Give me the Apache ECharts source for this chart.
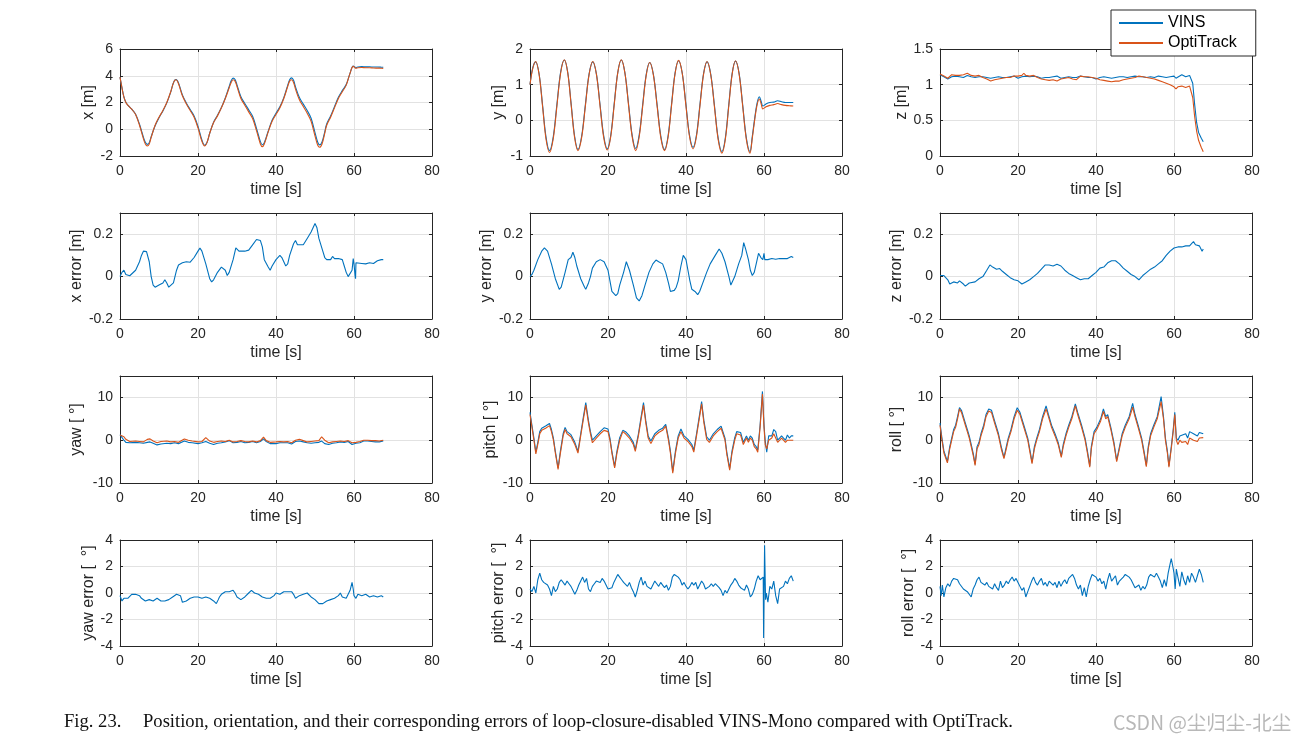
<!DOCTYPE html>
<html>
<head>
<meta charset="utf-8">
<script src="https://cdn.jsdelivr.net/npm/echarts/dist/echarts.min.js"></script>
<style>html,body{margin:0;padding:0;background:#fff}#chart{width:1305px;height:744px}</style>
</head>
<body>
<div id="chart"></div>
<script>
// ---------------- DATA ----------------
const X_T = [0,0.5,1,1.5,2,3,4,5,6,6.5,7,7.5,8,9,10,11,12,13,13.5,14,14.4,15,16,17,18,19,20,21,21.7,22.3,23,24,25,26,27,28,28.5,29,29.5,30,31,32,33,34,35,36,36.5,37,38,39,40,41,42,43,43.5,44,44.5,45,46,47,48,49,50,50.7,51.2,51.8,52.5,53,54,55,56,57,58,59,59.8,60.5,61,62,63,64,65,66,67,67.5];
const X_OPTI = [3.9,3.1,2.4,2.0,1.8,1.5,1.1,0.3,-0.7,-1.1,-1.25,-1.1,-0.6,0.3,0.9,1.4,2.0,2.8,3.3,3.65,3.7,3.4,2.5,1.9,1.4,0.9,0.1,-0.9,-1.25,-1.0,-0.3,0.5,1.0,1.6,2.3,3.1,3.5,3.7,3.6,3.2,2.3,1.8,1.3,0.8,-0.1,-1.1,-1.3,-1.1,-0.2,0.6,1.1,1.6,2.3,3.2,3.6,3.7,3.5,3.0,2.2,1.7,1.2,0.6,-0.5,-1.2,-1.35,-1.1,-0.3,0.3,0.9,1.6,2.3,2.8,3.3,4.2,4.7,4.55,4.6,4.62,4.6,4.6,4.58,4.57,4.56,4.55];
const X_VINS = [3.9,3.12,2.42,2.02,1.81,1.51,1.13,0.37,-0.59,-0.98,-1.13,-1.0,-0.55,0.26,0.86,1.37,1.97,2.77,3.3,3.66,3.72,3.47,2.57,1.97,1.47,0.99,0.22,-0.8,-1.2,-0.99,-0.3,0.53,1.04,1.62,2.34,3.2,3.62,3.82,3.72,3.32,2.43,1.93,1.45,0.97,0.07,-0.93,-1.16,-1.01,-0.15,0.67,1.2,1.68,2.36,3.28,3.7,3.84,3.66,3.17,2.37,1.88,1.4,0.82,-0.25,-0.97,-1.17,-0.95,-0.19,0.39,0.99,1.69,2.39,2.89,3.34,4.2,4.72,4.62,4.66,4.68,4.66,4.67,4.65,4.65,4.64,4.63];

const Y_T = [0,0.7,1.45,2.34,3.23,4.11,5.0,5.95,6.9,7.85,8.8,9.68,10.55,11.43,12.3,13.25,14.2,15.15,16.1,17.03,17.95,18.88,19.8,20.7,21.6,22.5,23.4,24.33,25.25,26.18,27.1,28.0,28.9,29.8,30.7,31.65,32.6,33.55,34.5,35.4,36.3,37.2,38.1,39.03,39.95,40.88,41.8,42.7,43.6,44.5,45.4,46.35,47.3,48.25,49.2,50.08,50.95,51.83,52.7,53.63,54.55,55.48,56.4,57.0,57.6,58.2,58.8,59.3,59.7,60.5,61.5,62.5,63.5,64.5,65.5,66.5,67.5];
const Y_OPTI = [1.0,1.45,1.65,1.28,0.38,-0.53,-0.9,-0.52,0.4,1.32,1.7,1.33,0.43,-0.48,-0.85,-0.48,0.4,1.28,1.65,1.29,0.41,-0.47,-0.83,-0.46,0.44,1.33,1.7,1.33,0.44,-0.45,-0.85,-0.46,0.4,1.26,1.62,1.26,0.39,-0.49,-0.85,-0.48,0.42,1.31,1.68,1.32,0.44,-0.44,-0.8,-0.44,0.43,1.29,1.65,1.27,0.37,-0.54,-0.92,-0.54,0.38,1.29,1.67,1.29,0.38,-0.54,-0.92,-0.5,0.0,0.42,0.6,0.45,0.32,0.38,0.42,0.44,0.47,0.44,0.42,0.41,0.4];
const Y_VINS = [1.0,1.47,1.64,1.3,0.42,-0.47,-0.85,-0.47,0.45,1.35,1.69,1.34,0.46,-0.44,-0.82,-0.44,0.44,1.3,1.64,1.3,0.45,-0.42,-0.8,-0.42,0.48,1.34,1.69,1.34,0.48,-0.41,-0.79,-0.41,0.45,1.29,1.62,1.28,0.43,-0.45,-0.82,-0.44,0.46,1.33,1.67,1.33,0.48,-0.4,-0.76,-0.4,0.47,1.31,1.64,1.29,0.41,-0.5,-0.88,-0.5,0.42,1.31,1.66,1.31,0.42,-0.5,-0.88,-0.45,0.05,0.47,0.66,0.52,0.4,0.46,0.5,0.51,0.55,0.52,0.5,0.5,0.5];

const Z_T = [0,1,2,3,4,5,6,7,8,9,10,11,12,13,14,15,16,17,18,19,20,21,21.5,22,23,24,25,26,27,28,29,30,31,32,33,34,35,36,37,38,39,40,41,42,43,44,45,46,47,48,49,50,51,51.5,52,53,54,55,56,57,58,59,60,60.5,61,62,63,64,64.4,64.8,65.3,65.8,66.3,67,67.5];
const Z_OPTI = [1.15,1.12,1.09,1.14,1.13,1.13,1.14,1.16,1.13,1.12,1.13,1.1,1.08,1.05,1.07,1.08,1.09,1.1,1.1,1.12,1.12,1.13,1.16,1.13,1.12,1.13,1.1,1.08,1.07,1.06,1.07,1.05,1.08,1.09,1.1,1.08,1.07,1.12,1.11,1.11,1.1,1.09,1.07,1.06,1.05,1.04,1.05,1.05,1.07,1.08,1.09,1.1,1.12,1.13,1.11,1.1,1.09,1.08,1.06,1.04,1.02,1.0,0.97,0.94,0.97,0.98,0.96,0.98,0.97,0.82,0.55,0.35,0.22,0.12,0.06];
const Z_VINS = [1.14,1.11,1.08,1.11,1.12,1.11,1.1,1.13,1.11,1.1,1.11,1.11,1.1,1.09,1.1,1.11,1.1,1.1,1.11,1.12,1.09,1.11,1.12,1.12,1.11,1.12,1.11,1.09,1.1,1.1,1.11,1.12,1.09,1.1,1.11,1.1,1.1,1.12,1.11,1.1,1.1,1.08,1.1,1.11,1.1,1.09,1.1,1.11,1.11,1.1,1.11,1.12,1.11,1.12,1.11,1.1,1.11,1.1,1.12,1.11,1.1,1.11,1.12,1.09,1.08,1.14,1.11,1.13,1.13,1.02,0.72,0.47,0.33,0.25,0.2];

const XERR = [[0,0],[0.5,0.02],[1,0.03],[1.5,0.01],[2,0.008],[2.5,0.004],[3,0.006],[4,0.03],[5,0.07],[5.5,0.1],[6,0.12],[6.8,0.118],[7.5,0.07],[8,0.0],[8.5,-0.04],[9,-0.05],[10,-0.04],[11,-0.03],[11.5,-0.015],[12,-0.03],[12.5,-0.05],[13,-0.055],[13.7,-0.03],[14.5,0.03],[15,0.055],[16,0.065],[17,0.07],[18,0.068],[19,0.09],[20,0.12],[20.5,0.135],[21,0.12],[22,0.06],[23,-0.01],[23.5,-0.025],[24,-0.015],[25,0.02],[26,0.045],[27,0.03],[27.5,0.005],[28,0.02],[29,0.08],[29.7,0.135],[30.5,0.12],[31,0.115],[32,0.12],[33,0.125],[34,0.15],[35,0.175],[36,0.17],[36.5,0.14],[37,0.08],[38,0.045],[38.5,0.03],[39,0.05],[40,0.08],[41,0.1],[41.5,0.09],[42,0.07],[42.5,0.05],[43,0.06],[43.5,0.1],[44.5,0.155],[45,0.17],[45.5,0.15],[46,0.145],[47,0.15],[48,0.18],[49,0.21],[50,0.25],[50.5,0.23],[51,0.18],[52,0.12],[52.5,0.09],[53,0.08],[54,0.08],[54.5,0.095],[55,0.085],[56,0.085],[57,0.08],[57.5,0.05],[58,0.02],[58.5,0.0],[59,-0.005],[59.5,0.03],[59.8,0.085],[60,0.06],[60.3,0.0],[60.4,-0.01],[60.5,0.065],[61,0.06],[62,0.062],[63,0.06],[64,0.065],[65,0.062],[66,0.075],[67,0.08],[67.5,0.08]];
const YERR = [[0,0.0],[0.5,0.01],[1,0.03],[2,0.08],[3,0.12],[3.7,0.135],[4.5,0.12],[5.5,0.06],[6.5,-0.01],[7.5,-0.06],[8,-0.05],[9,0.02],[9.8,0.08],[10.5,0.09],[11,0.115],[11.5,0.09],[12,0.05],[13,-0.01],[14,-0.05],[14.3,-0.06],[15,-0.03],[15.5,0.0],[16,0.04],[17,0.07],[18,0.08],[19,0.07],[20,0.03],[20.5,-0.02],[21,-0.07],[22,-0.09],[22.5,-0.08],[23,-0.04],[24,0.02],[24.7,0.07],[25.5,0.03],[26.5,-0.04],[27.3,-0.1],[28,-0.115],[28.7,-0.09],[29.5,-0.04],[30.5,0.02],[31.5,0.06],[32.3,0.078],[33,0.07],[34,0.06],[34.8,0.02],[35.5,-0.03],[36,-0.07],[37,-0.065],[37.5,-0.05],[38,-0.02],[38.7,0.05],[39.3,0.1],[40,0.08],[40.5,0.03],[41,-0.02],[41.5,-0.06],[42.3,-0.07],[43,-0.085],[43.5,-0.07],[44.5,-0.02],[45.3,0.02],[46.2,0.06],[47.5,0.1],[48.5,0.13],[49.2,0.11],[50,0.07],[51,0.0],[51.5,-0.04],[51.8,-0.045],[52.5,0.0],[53.5,0.06],[54.3,0.1],[54.8,0.16],[55.3,0.13],[56,0.08],[56.5,0.03],[57,0.005],[57.5,0.02],[58,0.06],[58.6,0.11],[59.2,0.09],[59.7,0.08],[60,0.11],[60.2,0.08],[61,0.08],[62,0.085],[63,0.082],[64,0.085],[65,0.085],[66,0.085],[66.5,0.09],[67,0.095],[67.5,0.09]];
const ZERR = [[0,0.005],[1,0.005],[2,-0.015],[2.5,-0.035],[3.5,-0.025],[4.5,-0.03],[5,-0.02],[6,-0.035],[6.5,-0.045],[7.5,-0.03],[9,-0.025],[10,-0.01],[11,0.0],[12,0.03],[12.8,0.055],[13.5,0.045],[14.5,0.035],[15.3,0.038],[16,0.025],[17,0.01],[18,-0.005],[19,-0.015],[20,-0.02],[21,-0.035],[22,-0.025],[23,-0.015],[24,0.0],[25,0.015],[26,0.035],[27,0.055],[28,0.055],[29,0.05],[30,0.058],[31,0.05],[32,0.03],[33,0.015],[34,0.005],[35,-0.005],[36,-0.015],[37,-0.01],[38,-0.01],[39,0.005],[40,0.02],[41,0.04],[42,0.045],[43,0.065],[44,0.075],[45,0.075],[46,0.06],[47,0.04],[48,0.025],[49,0.01],[50,0.0],[51,-0.015],[52,0.005],[53,0.02],[54,0.035],[55,0.045],[56,0.06],[57,0.075],[58,0.1],[59,0.12],[60,0.135],[61,0.14],[62,0.14],[63,0.145],[64,0.145],[64.5,0.155],[65,0.165],[65.5,0.15],[66,0.155],[66.5,0.145],[67,0.14],[67.2,0.12],[67.5,0.13]];

const YAW_T = [0,0.5,1,1.5,2.5,4,5,6,7,7.7,8.5,9.5,10.5,12,13,14,15,16.5,17.5,18.5,20,21,22,23,24,25,26,27,28,29,30,31,32,33,34,35,36,36.8,37.5,38.5,40,41,42,43,44,45,46,47,48,49,50,51,51.7,52.5,53.5,54.5,55.5,56.5,57.5,58.5,59.5,60.5,61.5,62.5,63.5,64.5,65.5,66.5,67.5];
const YAW_OPTI = [1.2,1.4,0.8,0.2,-0.3,-0.2,-0.3,-0.4,0.2,0.3,-0.2,-0.6,-0.3,-0.2,-0.4,-0.3,-0.5,0.3,0.0,-0.2,-0.4,-0.3,0.6,-0.2,-0.5,-0.3,-0.2,-0.3,0.0,-0.4,-0.3,-0.1,-0.3,-0.4,-0.2,-0.4,-0.1,0.7,-0.1,-0.5,-0.4,-0.3,-0.4,-0.3,-0.6,0.0,0.2,-0.1,-0.4,-0.3,-0.2,-0.1,0.8,0.0,-0.6,-0.4,-0.3,-0.2,-0.3,-0.1,-0.6,-0.5,-0.3,0.0,0.0,-0.1,-0.1,-0.2,0.0];
const YAW_VINS = [1.3,0.9,0.0,-0.5,-0.6,-0.5,-0.6,-0.7,-0.5,-0.4,-0.7,-1.1,-0.9,-0.7,-0.8,-0.6,-0.8,-0.2,-0.5,-0.6,-0.8,-0.6,-0.3,-0.7,-1.0,-0.7,-0.6,-0.4,-0.1,-0.6,-0.5,-0.3,-0.6,-0.5,-0.3,-0.6,-0.3,0.3,-0.3,-0.8,-0.8,-0.6,-0.6,-0.6,-0.9,-0.3,-0.2,-0.4,-0.6,-0.7,-0.6,-0.5,-0.2,-0.8,-1.0,-0.7,-0.6,-0.4,-0.5,-0.3,-1.0,-0.7,-0.6,-0.2,-0.2,-0.3,-0.4,-0.4,-0.2];

const PITCH_T = [0,0.5,1,1.5,2,2.5,3,4,5,5.5,6,6.5,7.2,7.8,8.5,9,9.5,10.5,11.5,12.3,13,13.7,14.3,15,15.5,16,17,18,19,20,20.5,21,21.7,22.3,23,23.8,24.5,25.5,26.5,27,27.8,28.5,29.1,29.7,30.3,31,32,33,34,34.8,35.5,36,36.6,37.3,38,38.7,39.5,40.5,41.5,42,42.7,43.4,44,44.6,45.3,46,47,48,49,49.5,50,50.5,51.2,51.8,52.5,53,54,54.7,55.5,56,56.5,57,57.5,58,58.4,59,59.6,60,60.3,60.7,61.2,62,62.5,63,63.5,64,64.5,65,65.5,66,66.5,67,67.5];
const PITCH_OPTI = [6,3,0,-3.2,-1,1.5,2.3,2.8,3.4,2,0,-3,-6.8,-3,1,2.5,1.5,0.8,-1,-3,1,5,8.2,4,1.5,-0.6,0.5,1.5,2.3,2,0,-3,-6.5,-3,0,2,1.5,0.5,-1,-2.6,1,5,8.2,4,0.5,-0.8,1,1.8,2.3,3.3,0,-3,-7.7,-3,0.5,2,0.5,-0.3,-1.5,-2.8,1,5,8.5,4,0.2,-0.5,1,2,2.8,3.2,0,-3.5,-7,-3,0,1.5,1.2,-1,0.5,-0.5,0.5,0,-1.5,-2,-2.8,3,10.8,3,-1,-2,0,0.5,1.5,1.5,-0.5,-0.5,0.5,0,-0.5,0,-0.3,0,0];
const PITCH_VINS = [6.5,3.5,0.5,-2.8,-0.5,2,2.8,3.3,3.9,2.5,0.5,-2.6,-6.5,-2.5,1.5,3,2,1.3,-0.5,-2.6,1.5,5.5,8.8,4.5,2,0,1,2,2.9,2.6,0.5,-2.6,-6.1,-2.5,0.6,2.3,2,1,-0.5,-2.2,1.5,5.5,8.8,4.5,1,-0.2,1.5,2.3,2.8,3.7,0.5,-2.5,-7.3,-2.5,1,2.6,1,0.2,-1,-2.3,1.5,5.5,9,4.5,0.8,0,1.5,2.5,3.3,3.7,0.5,-3,-6.6,-2.5,0.6,2,1.8,-0.5,1,0,1,0.5,-1,-1.5,-2.3,3.5,11.4,3.5,0,-2.8,1,1,2.5,2,0,0.5,1,0.5,0,1.2,0.5,1,1];

const ROLL_T = [0,0.5,1,1.9,2.5,3,3.5,4,4.5,5,5.5,6,6.5,7,7.5,8,8.5,9,9.5,10,10.5,11.2,11.8,12.5,13.2,14,15,15.7,16.4,17,17.5,18.2,19,19.8,20.5,21.5,22.5,23.1,23.6,24.2,24.8,25.5,26.3,27.2,27.8,28.6,29.5,30.3,31.1,31.6,32.3,33,33.8,34.7,35.3,36.3,37.2,37.8,38.4,38.8,39.5,40.2,41.2,41.9,42.5,43,43.8,44.6,45.3,45.9,46.7,47.5,48.5,49.4,50,50.8,51.7,52.3,52.9,53.4,54,54.8,55.7,56.7,57.3,57.8,58.3,58.7,59.3,59.8,60.2,60.6,61,61.5,62,63,63.5,64,65,66,66.5,67,67.5];
const ROLL_OPTI = [3.5,0,-3,-5.3,-2,0,2,3,5,7.3,6.5,5,3.5,2,0.5,-1.5,-3.5,-5.9,-2,-1,1,3,5.5,6.8,6.5,4,1,-2,-4.3,-2,0,2,5,7,6,3,0,-3,-5.5,-2,0,2,5,7.3,5.5,3,1,-1,-4,-1.5,1,3,5,8,6,3,0,-3,-6.3,-2,1.5,2.5,4.5,6.7,5,5.5,2.5,-1,-5,-2.5,1,3,5,7.7,5.5,3,0,-3,-6.2,-2,1,3,5,9,5,0,-3,-6.3,-2,2,6,0,-1,0,-0.5,-0.3,-1,0.5,0,-0.3,0.5,0.3,0.6];
const ROLL_VINS = [4,0.5,-2.5,-5,-1.5,0.5,2.5,3.5,5.5,7.6,7,5.5,4,2.5,1,-1,-3,-5.6,-1.5,-0.5,1.5,3.5,6,7.3,7,4.5,1.5,-1.5,-4,-1.5,0.5,2.5,5.5,7.6,6.5,3.5,0.5,-2.5,-5.2,-1.5,0.5,2.5,5.5,8,6,3.5,1.5,-0.5,-3.7,-1,1.5,3.5,5.5,8.5,6.5,3.5,0.5,-2.5,-6,-1.5,2,3,5,7.3,5.5,6,3,-0.5,-4.7,-2,1.5,3.5,5.5,8.6,6,3.5,0.5,-2.5,-5.9,-1.5,1.5,3.5,5.5,10.2,5.5,0.5,-2.5,-6,-1.5,2.5,6.5,0.5,0,1,1,1.5,0.5,2,1.5,1,1.8,1.5,1.5];

const YAWERR = [[0,-0.2],[0.5,-0.6],[1,-0.4],[1.5,-0.5],[2,-0.4],[2.5,-0.3],[3,-0.1],[3.5,0.0],[4,-0.1],[4.5,-0.1],[5,-0.2],[5.5,-0.4],[6,-0.5],[6.5,-0.6],[7,-0.6],[7.5,-0.5],[8,-0.5],[8.5,-0.6],[9,-0.6],[9.5,-0.4],[10,-0.5],[10.5,-0.6],[11,-0.7],[11.5,-0.6],[12,-0.5],[12.5,-0.5],[13,-0.4],[13.5,-0.3],[14,-0.2],[14.5,-0.1],[15,0.0],[15.5,-0.2],[16,-0.7],[16.5,-0.6],[17,-0.6],[17.5,-0.5],[18,-0.4],[18.5,-0.4],[19,-0.3],[19.5,-0.2],[20,-0.3],[20.5,-0.4],[21,-0.4],[21.5,-0.4],[22,-0.3],[22.5,-0.3],[23,-0.4],[23.5,-0.5],[24,-0.6],[24.7,-0.8],[25.2,-0.5],[25.5,-0.3],[26,-0.1],[26.5,0.0],[27,0.1],[27.5,0.0],[28,0.1],[28.5,0.2],[29,0.2],[29.5,0.0],[30,-0.3],[30.5,-0.4],[31,-0.5],[31.5,-0.4],[32,-0.3],[32.5,-0.2],[33,0.0],[33.7,0.2],[34.2,0.1],[34.5,0.0],[35,-0.1],[35.5,-0.1],[36,-0.2],[36.5,-0.3],[37,-0.4],[37.5,-0.4],[38,-0.5],[38.5,-0.4],[39,-0.3],[39.5,-0.2],[40,0.0],[40.5,-0.1],[41,-0.1],[41.5,0.0],[42,0.1],[42.5,0.1],[43,0.1],[43.5,0.2],[44,0.1],[44.5,-0.1],[45,-0.4],[45.5,-0.3],[46,-0.2],[46.5,-0.1],[47,-0.1],[47.5,0.0],[48,0.0],[48.5,-0.1],[49,-0.3],[49.5,-0.4],[50,-0.5],[50.5,-0.6],[51,-0.8],[51.5,-0.9],[52,-0.8],[52.5,-0.7],[53,-0.6],[53.5,-0.6],[54,-0.5],[54.5,-0.5],[55,-0.4],[55.5,-0.3],[56,-0.2],[56.5,0.0],[57,-0.3],[57.5,-0.4],[58,-0.4],[58.5,-0.1],[59,0.2],[59.5,0.8],[59.8,0.3],[60,-0.2],[60.5,-0.4],[61,-0.1],[61.5,-0.2],[62,-0.2],[62.5,-0.1],[63,-0.1],[63.5,-0.2],[64,-0.3],[64.5,-0.2],[65,-0.2],[65.5,-0.3],[66,-0.3],[66.5,-0.2],[67,-0.2],[67.5,-0.3]];
const PITCHERR = [[0,0.3],[0.5,0.1],[1,0.5],[1.5,0.0],[2,1.0],[2.5,1.5],[3,1.0],[3.5,0.8],[4,0.9],[4.5,0.6],[5,0.3],[5.5,-0.2],[6,0.5],[6.5,0.1],[7,0.3],[7.5,0.8],[8,1.0],[8.5,0.9],[9,0.6],[9.5,0.9],[10,0.7],[10.5,0.5],[11,0.2],[11.5,-0.1],[12,0.2],[12.5,0.6],[13,0.9],[13.5,1.2],[14,0.8],[14.5,1.1],[15,0.3],[15.5,0.1],[16,0.5],[16.5,0.7],[17,0.9],[17.5,1.0],[18,0.8],[18.5,1.1],[19,0.9],[19.5,0.6],[20,0.3],[20.5,0.2],[21,0.4],[21.5,0.8],[22,1.1],[22.5,1.4],[23,1.2],[23.5,1.0],[24,0.8],[24.5,0.7],[25,0.5],[25.5,0.8],[26,0.4],[26.5,0.1],[27,-0.3],[27.5,0.2],[28,0.8],[28.5,1.2],[29,0.6],[29.5,0.9],[30,0.5],[30.5,0.6],[31,0.3],[31.5,0.6],[32,0.9],[32.5,0.7],[33,0.5],[33.5,0.8],[34,0.6],[34.5,0.4],[35,0.6],[35.5,0.2],[36,0.5],[36.5,1.2],[37,1.4],[37.5,1.5],[38,1.2],[38.5,1.0],[39,0.6],[39.5,0.8],[40,0.5],[40.5,0.3],[41,0.5],[41.5,0.8],[42,0.6],[42.5,0.8],[43,0.3],[43.5,0.4],[44,0.9],[44.5,0.7],[45,0.3],[45.5,0.2],[46,0.5],[46.5,0.7],[47,0.5],[47.5,0.7],[48,0.6],[48.5,0.4],[49,0.2],[49.5,-0.2],[50,0.2],[50.5,0.0],[51,0.3],[51.5,0.6],[52,0.8],[52.5,1.1],[53,0.9],[53.5,0.6],[54,0.4],[54.5,0.5],[55,0.2],[55.5,0.6],[56,0.3],[56.5,-0.3],[57,-0.1],[57.5,0.3],[58,0.9],[58.5,1.3],[59,1.0],[59.5,0.9],[59.8,1.2],[59.9,-3.4],[60.15,3.6],[60.4,-0.5],[60.6,0.0],[61,-0.7],[61.5,0.5],[62,0.3],[62.5,0.9],[63,-0.2],[63.5,-0.8],[64,0.3],[64.5,0.2],[65,0.5],[65.5,0.9],[66,0.7],[66.5,1.1],[67,1.3],[67.5,0.9]];
const ROLLERR = [[0,0.5],[0.3,-0.2],[0.6,0.6],[1,-0.3],[1.5,0.4],[2,0.7],[2.5,0.5],[3,0.9],[3.5,1.1],[4,1.2],[4.5,1.0],[5,0.7],[5.5,0.8],[6,0.3],[6.5,0.4],[7,0.1],[7.5,0.2],[8,-0.3],[8.5,0.3],[9,0.6],[9.5,1.0],[10,1.2],[10.5,0.8],[11,0.9],[11.5,0.6],[12,0.8],[12.5,0.5],[13,0.6],[13.5,0.3],[14,0.7],[14.5,0.4],[15,0.2],[15.5,0.9],[16,0.4],[16.5,0.6],[17,0.9],[17.5,0.7],[18,1.0],[18.5,1.2],[19,0.9],[19.5,1.1],[20,0.8],[20.5,0.5],[21,0.2],[21.5,0.4],[22,-0.3],[22.5,0.1],[23,0.5],[23.5,0.9],[24,1.2],[24.5,0.8],[25,0.6],[25.5,0.9],[26,1.1],[26.5,0.6],[27,0.8],[27.5,0.5],[28,0.9],[28.5,1.0],[29,0.6],[29.5,0.8],[30,0.4],[30.5,0.9],[31,0.5],[31.5,0.8],[32,1.0],[32.5,0.7],[33,1.1],[33.5,1.2],[34,1.4],[34.5,1.1],[35,0.6],[35.5,0.3],[36,0.6],[36.5,-0.2],[37,0.4],[37.5,-0.3],[38,0.5],[38.5,1.0],[39,1.4],[39.5,1.5],[40,1.2],[40.5,0.9],[41,1.1],[41.5,0.7],[42,0.9],[42.5,0.3],[43,1.0],[43.5,1.5],[44,0.9],[44.5,0.8],[45,1.3],[45.5,0.6],[46,0.9],[46.5,1.0],[47,1.2],[47.5,1.4],[48,1.5],[48.5,1.2],[49,1.0],[49.5,1.1],[50,0.4],[50.5,0.3],[51,0.6],[51.5,0.2],[52,0.5],[52.5,0.3],[53,0.6],[53.5,1.2],[54,1.4],[54.5,1.5],[55,1.2],[55.5,1.5],[56,1.2],[56.5,0.9],[57,0.4],[57.5,1.0],[58,0.5],[58.5,1.5],[59,2.2],[59.3,2.6],[59.7,2.0],[60,1.5],[60.3,0.3],[60.6,1.8],[61,1.2],[61.5,0.5],[62,1.6],[62.5,1.0],[63,0.6],[63.5,1.3],[64,0.8],[64.5,1.5],[65,1.2],[65.5,0.8],[66,1.3],[66.5,1.8],[67,1.4],[67.5,0.8]];

const X_TICKS = {min: 0, max: 80, interval: 20};
const SERIES_NAMES = ['VINS', 'OptiTrack'];
const CAPTION_LABEL = 'Fig. 23.';
const CAPTION_TEXT = 'Position, orientation, and their corresponding errors of loop-closure-disabled VINS-Mono compared with OptiTrack.';
const WATERMARK = 'CSDN @尘归尘-北尘';

// ---------------- LAYOUT / STYLE ----------------
const AX = '#262626', GRIDC = '#e2e2e2';
const C_VINS = '#0072BD', C_OPTI = '#D95319';
const FONT = 'Liberation Sans, Arial, Helvetica, sans-serif';
const COL_LEFT = [120, 530, 940], COL_W = 312;
const ROW_TOP = [49, 213, 376, 540], ROW_H = [107, 106, 107, 106];

const pair = (t, v) => t.map((tt, k) => [tt, v[k]]);

const plots = [
  {r:0,c:0,name:'x [m]',min:-2,max:6,int:2,gap:22,smooth:true,s:[['VINS',pair(X_T,X_VINS)],['OptiTrack',pair(X_T,X_OPTI)]]},
  {r:0,c:1,name:'y [m]',min:-1,max:2,int:1,gap:22,smooth:true,s:[['VINS',pair(Y_T,Y_VINS)],['OptiTrack',pair(Y_T,Y_OPTI)]]},
  {r:0,c:2,name:'z [m]',min:0,max:1.5,int:0.5,gap:30,s:[['VINS',pair(Z_T,Z_VINS)],['OptiTrack',pair(Z_T,Z_OPTI)]]},
  {r:1,c:0,name:'x error [m]',min:-0.2,max:0.3,int:0.2,gap:35,hideMax:true,s:[['VINS',XERR]]},
  {r:1,c:1,name:'y error [m]',min:-0.2,max:0.3,int:0.2,gap:35,hideMax:true,s:[['VINS',YERR]]},
  {r:1,c:2,name:'z error [m]',min:-0.2,max:0.3,int:0.2,gap:35,hideMax:true,s:[['VINS',ZERR]]},
  {r:2,c:0,name:'yaw [ °]',min:-10,max:15,int:10,gap:35,hideMax:true,s:[['VINS',pair(YAW_T,YAW_VINS)],['OptiTrack',pair(YAW_T,YAW_OPTI)]]},
  {r:2,c:1,name:'pitch [ °]',min:-10,max:15,int:10,gap:31,hideMax:true,s:[['VINS',pair(PITCH_T,PITCH_VINS)],['OptiTrack',pair(PITCH_T,PITCH_OPTI)]]},
  {r:2,c:2,name:'roll [ °]',min:-10,max:15,int:10,gap:35,hideMax:true,s:[['VINS',pair(ROLL_T,ROLL_VINS)],['OptiTrack',pair(ROLL_T,ROLL_OPTI)]]},
  {r:3,c:0,name:'yaw error [  °]',min:-4,max:4,int:2,gap:23,s:[['VINS',YAWERR]]},
  {r:3,c:1,name:'pitch error [  °]',min:-4,max:4,int:2,gap:23,s:[['VINS',PITCHERR]]},
  {r:3,c:2,name:'roll error [  °]',min:-4,max:4,int:2,gap:23,s:[['VINS',ROLLERR]]}
];

const grid = [], xAxis = [], yAxis = [], series = [];
const lineAx = {show:true, onZero:false, lineStyle:{color:AX, width:1}};
const tick = {show:true, inside:true, length:3, lineStyle:{color:AX, width:1}};
plots.forEach((p, i) => {
  grid.push({left:COL_LEFT[p.c], top:ROW_TOP[p.r], width:COL_W, height:ROW_H[p.r], containLabel:false});
  xAxis.push({type:'value', gridIndex:i, position:'bottom', ...X_TICKS,
    name:'time [s]', nameLocation:'middle', nameGap:26,
    nameTextStyle:{fontSize:16, color:AX, fontFamily:FONT},
    axisLine:lineAx, axisTick:tick,
    axisLabel:{fontSize:14, color:AX, margin:8, fontFamily:FONT},
    splitLine:{show:true, lineStyle:{color:GRIDC, width:1}}});
  yAxis.push({type:'value', gridIndex:i, position:'left', min:p.min, max:p.max, interval:p.int,
    name:p.name, nameLocation:'middle', nameGap:p.gap, nameRotate:90,
    nameTextStyle:{fontSize:16, color:AX, fontFamily:FONT},
    axisLine:lineAx, axisTick:tick,
    axisLabel:{fontSize:14, color:AX, margin:7, fontFamily:FONT, showMaxLabel: p.hideMax ? false : true},
    splitLine:{show:true, lineStyle:{color:GRIDC, width:1}}});
  p.s.forEach(([nm, data]) => {
    series.push({type:'line', name:nm, xAxisIndex:i, yAxisIndex:i, data:data,
      showSymbol:false, symbol:'none', smooth: p.smooth ? 0.35 : false,
      lineStyle:{width:1.1, color: nm === 'VINS' ? C_VINS : C_OPTI},
      itemStyle:{color: nm === 'VINS' ? C_VINS : C_OPTI},
      z: nm === 'VINS' ? 2 : 3, animation:false});
  });
});
// mirrored box axes (top / right), MATLAB style
plots.forEach((p, i) => {
  xAxis.push({type:'value', gridIndex:i, position:'top', ...X_TICKS, axisLine:lineAx, axisTick:tick, axisLabel:{show:false}, splitLine:{show:false}});
  yAxis.push({type:'value', gridIndex:i, position:'right', min:p.min, max:p.max, interval:p.int, axisLine:lineAx, axisTick:tick, axisLabel:{show:false}, splitLine:{show:false}});
});

const option = {
  animation:false,
  backgroundColor:'#fff',
  grid, xAxis, yAxis, series,
  legend:{data:SERIES_NAMES, orient:'vertical', left:1111, top:10, padding:[5,19,5,8], itemGap:4,
    itemWidth:44, itemHeight:2, icon:'rect', borderColor:AX, borderWidth:1, backgroundColor:'#fff',
    selectedMode:false, textStyle:{fontSize:16, color:'#000', fontFamily:FONT}},
  graphic:[
    {type:'text', left:64, top:713, style:{text:CAPTION_LABEL, font:'18.6px "Liberation Serif", "Times New Roman", serif', fill:'#111'}},
    {type:'text', left:143, top:713, style:{text:CAPTION_TEXT, font:'18.6px "Liberation Serif", "Times New Roman", serif', fill:'#111'}},
    {type:'text', left:1113, top:713, style:{text:WATERMARK, font:'19.5px "Noto Sans CJK SC", "Noto Sans", sans-serif', fill:'#b8b8b8'}}
  ]
};
const chart = echarts.init(document.getElementById('chart'), null, {renderer:'canvas'});
chart.setOption(option);
</script>
</body>
</html>
